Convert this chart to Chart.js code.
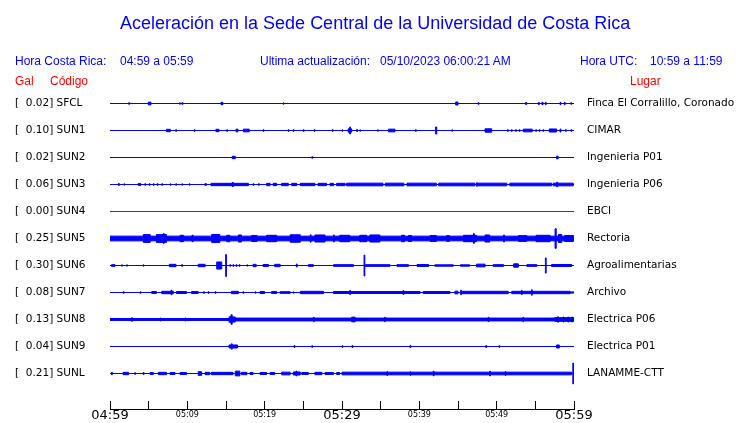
<!DOCTYPE html>
<html>
<head>
<meta charset="utf-8">
<script src="https://cdn.jsdelivr.net/npm/chart.js@4.4.1/dist/chart.umd.min.js"></script>
<style>
  html, body { margin: 0; padding: 0; background: #fff; }
  #wrap { position: relative; width: 740px; height: 423px; overflow: hidden; }
  #plot { position: absolute; left: 0; top: 0; width: 740px; height: 423px; }
  .t { position: absolute; z-index: 2; font-family: 'Liberation Sans', Arial, sans-serif; font-size: 12px; line-height: 14px; white-space: pre; color: #0000ff; }
  .red { color: #ff0000; }
  #title { font-size: 18px; line-height: 20px; left: 120px; top: 13px; }
</style>
</head>
<body>
<div id="wrap">
  <div class="t" id="title">Aceleración en la Sede Central de la Universidad de Costa Rica</div>
  <div class="t" style="left:15px;top:54px">Hora Costa Rica:</div>
  <div class="t" style="left:120px;top:54px">04:59 a 05:59</div>
  <div class="t" style="left:260px;top:54px">Ultima actualización:</div>
  <div class="t" style="left:380px;top:54px">05/10/2023 06:00:21 AM</div>
  <div class="t" style="left:580px;top:54px">Hora UTC:</div>
  <div class="t" style="left:650px;top:54px">10:59 a 11:59</div>
  <div class="t red" style="left:15px;top:74px">Gal</div>
  <div class="t red" style="left:50px;top:74px">Código</div>
  <div class="t red" style="left:630px;top:74px">Lugar</div>
  <div id="plot"><canvas id="sismo"></canvas></div>
</div>
<script>
// estaciones, de arriba hacia abajo
const codes  = ['SFCL', 'SUN1', 'SUN2', 'SUN3', 'SUN4', 'SUN5', 'SUN6', 'SUN7', 'SUN8', 'SUN9', 'SUNL'];
const peaks  = ['0.02', '0.10', '0.02', '0.06', '0.00', '0.25', '0.30', '0.08', '0.13', '0.04', '0.21'];
const places = ['Finca El Corralillo, Coronado', 'CIMAR', 'Ingenieria P01', 'Ingenieria P06', 'EBCI', 'Rectoria',
                'Agroalimentarias', 'Archivo', 'Electrica P06', 'Electrica P01', 'LANAMME-CTT'];

// eje de tiempo: minutos desde las 04:59
const timeTicks  = [0, 5, 10, 15, 20, 25, 30, 35, 40, 45, 50, 55, 60];
const timeLabels = ['04:59', '', '05:09', '', '05:19', '', '05:29', '', '05:39', '', '05:49', '', '05:59'];

// envolvente de cada traza: [inicio (min), fin (min), amplitud relativa]
const sfcl = [[2.4, 2.55, 0.4], [4.95, 5.3, 0.8], [9.0, 9.1, 0.4], [9.3, 9.42, 0.5], [14.35, 14.6, 0.7], [22.4, 22.5, 0.4],
  [44.7, 45.0, 0.9], [47.6, 47.7, 0.5], [53.75, 53.85, 0.7], [55.4, 55.5, 0.7], [55.85, 56.0, 0.7], [56.3, 56.4, 0.7],
  [58.2, 58.3, 0.7], [58.75, 58.85, 0.7], [59.6, 59.7, 0.5]];
const sun1 = [[7.3, 7.8, 0.7], [8.5, 8.6, 0.5], [10.9, 11.0, 0.5], [13.7, 14.1, 0.7], [15.1, 15.2, 0.5], [16.3, 16.55, 0.8],
  [17.25, 18.0, 0.8], [19.8, 19.9, 0.5], [23.05, 23.15, 0.5], [23.7, 23.8, 0.5], [25.0, 25.1, 0.5], [26.4, 26.5, 0.5],
  [28.75, 28.85, 0.5], [30.0, 30.1, 0.4], [30.8, 31.25, 1.0], [31.0, 31.1, 2.1], [31.9, 32.0, 0.6], [32.3, 32.4, 0.4],
  [34.6, 34.7, 0.4], [36.0, 36.85, 0.8], [39.5, 39.6, 0.5], [42.1, 42.25, 2.1], [44.2, 44.3, 0.4], [48.5, 49.35, 1.0],
  [51.4, 51.5, 0.5], [51.9, 52.0, 0.5], [52.45, 52.55, 0.5], [52.9, 53.0, 0.5], [53.45, 54.6, 0.8], [55.05, 55.15, 0.5],
  [55.5, 55.6, 0.5], [56.0, 56.1, 0.5], [56.8, 57.75, 0.9], [58.2, 58.3, 0.9], [58.9, 59.0, 0.5], [59.6, 59.7, 0.5]];
const sun2 = [[15.8, 16.2, 0.7], [26.1, 26.2, 0.5], [57.75, 57.95, 0.8]];
const sun3 = [[1.1, 1.2, 0.6], [1.8, 1.9, 0.4], [3.66, 3.97, 0.6], [4.5, 4.6, 0.5], [5.05, 5.15, 0.5], [5.6, 5.7, 0.5],
  [6.1, 6.2, 0.5], [6.7, 6.8, 0.5], [7.76, 7.86, 0.4], [8.5, 8.6, 0.4], [9.3, 9.4, 0.4], [10.25, 10.35, 0.4],
  [12.3, 12.45, 0.6], [13.06, 17.9, 0.7], [15.8, 15.95, 1.2], [18.5, 18.6, 0.5], [19.2, 19.3, 0.5], [20.25, 20.7, 0.7],
  [21.1, 21.55, 0.7], [22.2, 23.05, 0.7], [23.5, 24.15, 0.7], [24.6, 26.5, 0.7], [26.9, 28.0, 0.7], [28.45, 28.9, 0.7],
  [29.3, 30.4, 0.7], [30.6, 35.3, 0.8], [35.6, 38.0, 0.8], [38.4, 42.2, 0.8], [42.5, 47.2, 0.8], [47.4, 47.5, 1.1],
  [47.6, 51.3, 0.8], [51.7, 57.1, 0.8], [57.3, 59.9, 0.8], [57.75, 57.9, 1.3]];
const sun4 = [];
const sun5 = [[0, 60, 1.4], [4.3, 5.2, 2.3], [6.0, 7.3, 2.3], [6.9, 7.0, 3.0], [9.05, 9.5, 1.9], [10.6, 10.75, 1.9],
  [13.15, 14.2, 2.4], [15.1, 15.5, 1.9], [16.6, 17.0, 2.1], [18.3, 19.0, 1.8], [20.25, 21.55, 1.9], [23.3, 24.6, 2.2],
  [25.9, 26.0, 2.2], [26.5, 27.8, 2.1], [28.9, 29.0, 2.1], [29.7, 31.0, 1.9], [32.3, 33.2, 1.9], [33.6, 34.9, 2.1],
  [37.7, 38.1, 1.9], [38.6, 39.0, 1.8], [41.4, 42.2, 1.8], [43.5, 43.9, 1.7], [45.7, 47.4, 1.9], [47.0, 47.1, 2.9],
  [48.5, 49.1, 2.1], [50.9, 51.0, 2.1], [52.8, 53.9, 1.7], [55.1, 56.9, 1.9], [57.55, 57.7, 5.8], [58.0, 58.4, 2.4],
  [58.8, 59.9, 1.8]];
const sun6 = [[0.2, 0.65, 0.5], [1.5, 1.6, 0.4], [2.15, 2.25, 0.4], [4.3, 4.4, 0.4], [7.67, 8.53, 0.7], [9.27, 9.37, 0.5],
  [11.4, 12.3, 0.7], [13.8, 14.45, 2.1], [14.96, 15.06, 6.5], [15.5, 15.6, 0.5], [15.9, 16.0, 0.5], [16.3, 16.4, 0.5],
  [16.7, 16.8, 0.5], [17.7, 17.8, 0.4], [18.5, 18.9, 0.7], [19.8, 20.5, 0.6], [21.3, 22.0, 0.7], [24.1, 24.2, 0.9],
  [25.65, 26.3, 0.5], [28.9, 31.5, 0.5], [32.85, 32.95, 6.2], [33.0, 36.2, 0.5], [37.1, 38.6, 0.5], [39.7, 41.2, 0.6],
  [42.0, 44.4, 0.4], [45.3, 46.5, 0.4], [47.4, 48.5, 0.8], [49.55, 50.9, 0.5], [52.2, 52.8, 1.0], [53.9, 55.2, 0.5],
  [56.3, 56.4, 4.5], [57.1, 59.7, 0.6]];
const sun7 = [[1.7, 1.8, 0.5], [3.9, 4.0, 0.5], [5.4, 6.0, 0.6], [6.7, 8.2, 0.7], [7.9, 8.0, 1.3], [8.6, 9.9, 0.6],
  [10.55, 11.4, 0.6], [12.1, 12.2, 0.5], [12.7, 12.8, 0.5], [13.6, 13.7, 0.5], [15.7, 16.6, 0.7], [17.2, 17.3, 0.5],
  [18.75, 18.85, 0.4], [19.4, 20.0, 0.6], [20.9, 21.55, 0.6], [22.0, 23.3, 0.5], [23.7, 23.8, 0.4], [24.6, 27.6, 0.7],
  [28.9, 40.1, 0.6], [31.0, 31.1, 1.2], [37.9, 38.0, 1.2], [40.5, 43.97, 0.6], [44.6, 45.0, 0.8], [45.3, 51.5, 0.7],
  [45.35, 45.45, 1.3], [51.95, 59.5, 0.7], [53.2, 53.3, 1.2], [54.5, 54.6, 1.6], [59.5, 60, 0.35]];
const sun8 = [[0, 15.4, 0.6], [2.8, 2.9, 1.1], [6.5, 6.6, 0.9], [9.7, 9.8, 0.9], [15.4, 15.65, 1.6], [15.65, 15.8, 2.8],
  [15.8, 16.2, 1.5], [16.2, 57.5, 0.85], [26.3, 26.4, 1.3], [31.25, 31.7, 1.4], [35.5, 35.6, 1.3], [48.9, 49.0, 1.3],
  [53.4, 53.5, 1.3], [57.5, 60, 1.1], [57.9, 58.0, 1.6], [58.6, 58.7, 1.5], [59.2, 59.3, 1.5], [59.7, 59.8, 1.5]];
const sun9 = [[15.4, 16.5, 0.9], [15.7, 15.8, 1.6], [23.8, 23.9, 0.6], [26.1, 26.2, 0.5], [30.0, 30.1, 0.5], [31.3, 31.4, 0.6],
  [38.8, 38.9, 0.7], [48.6, 48.7, 0.6], [50.3, 50.4, 0.5], [57.75, 58.1, 0.9]];
const sunl = [[0.2, 0.3, 0.7], [1.7, 2.4, 0.7], [3.2, 3.3, 0.5], [4.3, 4.4, 0.6], [5.2, 5.6, 0.6], [6.25, 7.3, 0.7],
  [7.76, 8.4, 0.6], [9.05, 9.9, 0.6], [11.4, 11.85, 1.1], [12.3, 12.9, 0.7], [13.1, 15.9, 0.7], [16.2, 16.8, 1.4],
  [17.0, 17.7, 0.7], [18.1, 18.5, 0.6], [19.4, 20.25, 0.6], [20.7, 21.3, 0.6], [22.2, 23.3, 0.8], [23.7, 24.6, 0.9],
  [24.05, 24.15, 1.4], [24.8, 25.65, 0.6], [26.5, 27.4, 0.7], [27.8, 28.9, 0.6], [29.3, 29.7, 0.6], [30.0, 59.7, 0.8],
  [35.8, 35.9, 1.1], [38.8, 38.9, 1.0], [41.8, 41.9, 1.4], [49.1, 49.2, 1.4], [51.1, 51.2, 1.1], [59.85, 59.93, 6.2]];

const traces = [sfcl, sun1, sun2, sun3, sun4, sun5, sun6, sun7, sun8, sun9, sunl];

const BLUE = '#0000ff';
const RED = '#e00000';
const GAP = 16;   // separacion entre trazas (unidades del eje y)

// separa los tramos que se traslapan en capas
function layers(segs) {
  const out = [];
  [...segs].sort((a, b) => a[0] - b[0]).forEach(s => {
    let l = out.find(l => l[l.length - 1][1] <= s[0]);
    if (!l) { l = []; out.push(l); }
    l.push(s);
  });
  return out;
}

function steps(layer, base, sign) {
  const pts = [{ x: 0, y: base }];
  layer.forEach(([t0, t1, a]) => {
    pts.push({ x: t0, y: base + sign * a });
    pts.push({ x: t1, y: base });
  });
  pts.push({ x: 60, y: base });
  return pts;
}

const datasets = [];
traces.forEach((segs, i) => {
  const base = i * GAP;
  const color = peaks[i] === '0.00' ? RED : BLUE;
  datasets.push({ data: [{ x: 0, y: base }, { x: 60, y: base }], borderColor: color, borderWidth: 1, pointRadius: 0 });
  layers(segs).forEach(l => {
    [-1, 1].forEach(sign => {
      datasets.push({
        data: steps(l, base, sign), stepped: true, borderColor: color, backgroundColor: color,
        borderWidth: 1, pointRadius: 0, fill: { value: base }
      });
    });
  });
});

// 0 cae en y=103.5 px y la escala va de 87 a 409 px (1.6875 px por unidad)
const yMin = -9.7778, yMax = 181.037;
const trackTicks = s => { s.ticks = codes.map((_, i) => ({ value: i * GAP })); };

new Chart(document.getElementById('sismo'), {
  type: 'line',
  data: { datasets },
  options: {
    responsive: true,
    maintainAspectRatio: false,
    animation: false,
    events: [],
    layout: { padding: { left: 15, top: 87, right: 0, bottom: 0 } },
    plugins: { legend: { display: false }, tooltip: { enabled: false } },
    scales: {
      x: {
        type: 'linear', min: 0, max: 60,
        afterBuildTicks: s => { s.ticks = timeTicks.map(v => ({ value: v })); },
        afterFit: s => { s.height = 14; },
        grid: { drawOnChartArea: false, drawTicks: true, tickLength: -8, color: '#000', tickColor: '#000' },
        border: { display: true, color: '#000', width: 1 },
        ticks: {
          autoSkip: false, maxRotation: 0, padding: 7, color: '#000',
          font: c => (c.tick && c.tick.value % 30 === 0)
            ? { family: 'DejaVu Sans', size: 13, lineHeight: 1.2 }
            : { family: 'DejaVu Sans', size: 8, lineHeight: 1.65 },
          callback: (v, idx) => timeLabels[idx]
        }
      },
      y: {
        type: 'linear', position: 'left', reverse: true, min: yMin, max: yMax,
        afterBuildTicks: trackTicks,
        afterFit: s => { s.width = 95; },
        grid: { display: false, drawTicks: false }, border: { display: false },
        ticks: {
          crossAlign: 'far', padding: 0, color: '#000', font: { family: 'DejaVu Sans', size: 10.5 },
          callback: v => { const i = Math.round(v / GAP); return '[  ' + peaks[i] + '] ' + codes[i]; }
        }
      },
      y2: {
        type: 'linear', position: 'right', reverse: true, min: yMin, max: yMax,
        afterBuildTicks: trackTicks,
        afterFit: s => { s.width = 166; },
        // la marca (8 px, oculta) + 5 px de separacion deja el texto a 13 px del trazo
        grid: { display: false, drawTicks: true, tickLength: 8 }, border: { display: false },
        ticks: {
          crossAlign: 'near', padding: 5, color: '#000', font: { family: 'DejaVu Sans', size: 10.5 },
          callback: v => places[Math.round(v / GAP)]
        }
      }
    }
  }
});
</script>
</body>
</html>
